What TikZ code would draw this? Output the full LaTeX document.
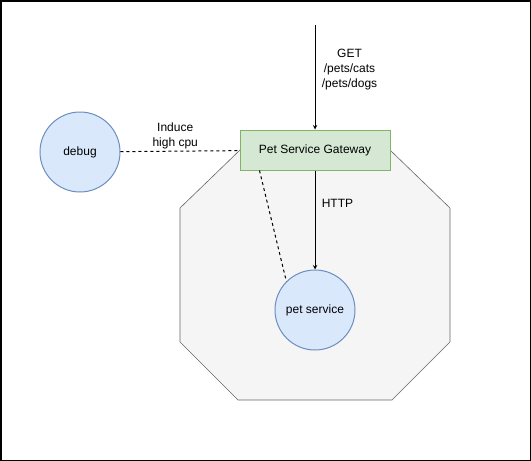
\documentclass[tikz,border=0pt]{standalone}
\usepackage{fontspec}
\setmainfont{Liberation Sans}
\definecolor{svcfill}{HTML}{DAE8FC}
\definecolor{svcdraw}{HTML}{6C8EBF}
\definecolor{gwfill}{HTML}{D5E8D4}
\definecolor{gwdraw}{HTML}{82B366}
\definecolor{podfill}{HTML}{F5F5F5}
\definecolor{poddraw}{HTML}{666666}

\begin{document}
\begin{tikzpicture}
            [x=1pt, y=-1pt, >=stealth, line width=1pt, font=\fontsize{12}{15}\selectfont]
            \useasboundingbox (0,0) rectangle (531,461);
            \draw[line width=1.5pt] (0.75,0.75) rectangle (530.25,460.25);
            \filldraw[fill=podfill,draw=poddraw,line width=0.6pt] (240,150) -- (390,150) -- (450,208) -- (450,342) -- (392,400) -- (238,400) -- (180,342) -- (180,208) -- cycle;
            \node[shape=circle,draw=svcdraw,fill=svcfill,minimum size=80pt] (debug) at (80,152) {debug};
            \node[shape=rectangle,draw=gwdraw,fill=gwfill,minimum width=150pt,minimum height=40pt] (gw) at (315,150) {Pet Service Gateway};
            \node[shape=circle,draw=svcdraw,fill=svcfill,minimum size=80pt] (pet) at (315,310) {pet service};
            \coordinate (client) at (315,25);

            \path [->] (client) edge node[pos=0.43, right=3pt, align=center] {GET\\/pets/cats\\/pets/dogs} (gw);
            \path [->] (gw) edge node[pos=0.33, right=3pt] {HTTP} (pet);
            \path [dashed] (debug) edge node[pos=0.46, above=-2pt, align=center] {Induce\\high cpu} (gw);
            \path [dashed] ([xshift=20pt]gw.south west) edge (pet.north west);
        \end{tikzpicture}
\end{document}
